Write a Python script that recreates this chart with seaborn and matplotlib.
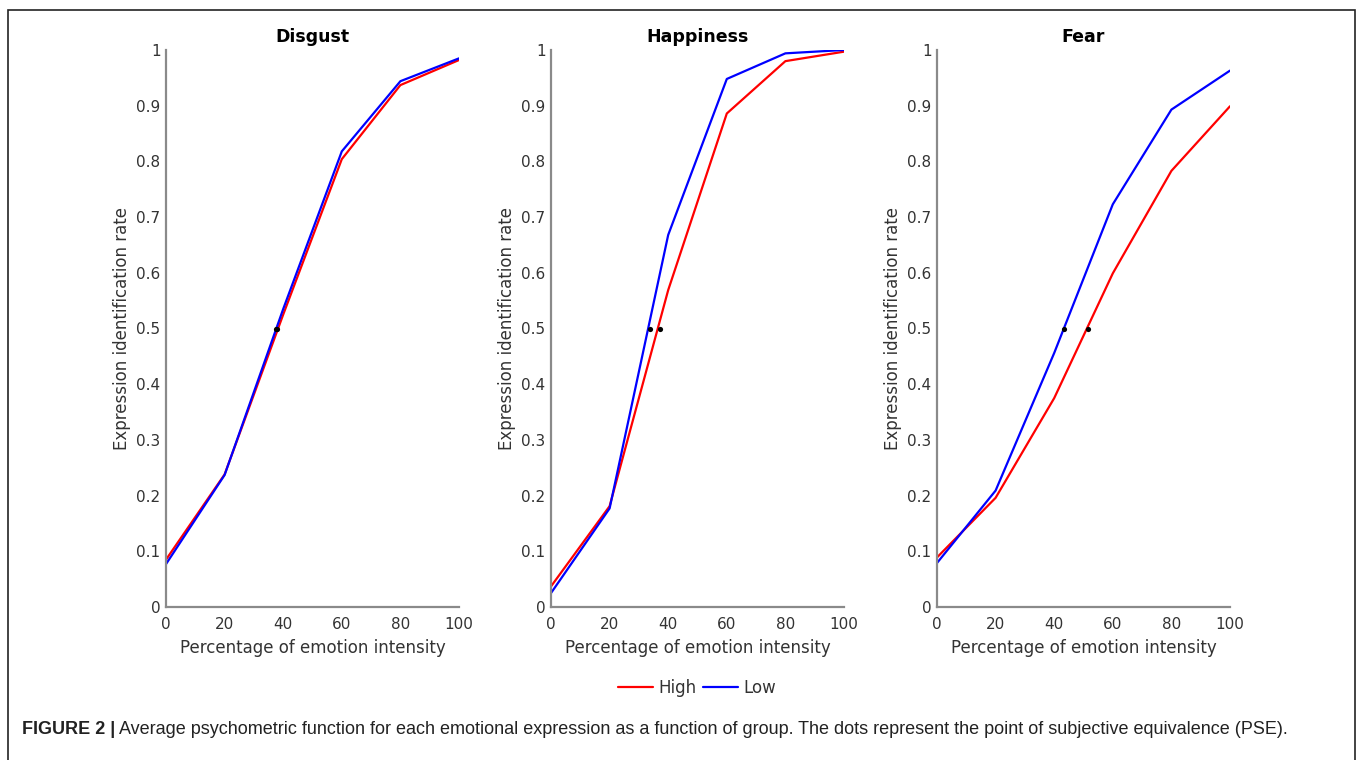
import matplotlib
matplotlib.use("Agg")
import matplotlib.pyplot as plt
import matplotlib.patches as mpatches
from matplotlib.lines import Line2D
from matplotlib.ticker import FormatStrFormatter
import seaborn as sns
import pandas as pd

# ---- data ----
emotions = ["Disgust", "Happiness", "Fear"]
intensity = [0, 20, 40, 60, 80, 100]
groups = ["High", "Low"]

disgust_high = [0.085, 0.238, 0.525, 0.804, 0.937, 0.982]
disgust_low = [0.077, 0.237, 0.535, 0.818, 0.944, 0.985]
happiness_high = [0.037, 0.181, 0.569, 0.886, 0.980, 0.997]
happiness_low = [0.025, 0.177, 0.668, 0.948, 0.994, 1.000]
fear_high = [0.089, 0.196, 0.375, 0.599, 0.783, 0.899]
fear_low = [0.079, 0.209, 0.456, 0.723, 0.893, 0.963]

pse_high = [37.8, 37.1, 51.6]
pse_low = [37.6, 33.9, 43.2]
pse_level = 0.5

series = {
    "Disgust": (disgust_high, disgust_low),
    "Happiness": (happiness_high, happiness_low),
    "Fear": (fear_high, fear_low),
}

xticks = [0, 20, 40, 60, 80, 100]
yticks = [0, 0.1, 0.2, 0.3, 0.4, 0.5, 0.6, 0.7, 0.8, 0.9, 1.0]
xlabel = "Percentage of emotion intensity"
ylabel = "Expression identification rate"
caption_bold = "FIGURE 2 |"
caption_text = ("Average psychometric function for each emotional expression as a function of group. "
                "The dots represent the point of subjective equivalence (PSE).")

palette = {"High": "#ff0000", "Low": "#0000ff"}

sns.set_style("white")
plt.rcParams["font.family"] = ["DejaVu Sans"]

W, H = 1358, 760
fig = plt.figure(figsize=(W / 100, H / 100), dpi=100)

lefts = [166, 551, 937]
ax_w = 293
ax_top, ax_bot = 50, 607
spine_col = "#8a8a8a"
text_col = "#333333"

for i, emo in enumerate(emotions):
    ax = fig.add_axes([lefts[i] / W, 1 - ax_bot / H, ax_w / W, (ax_bot - ax_top) / H])
    hi, lo = series[emo]
    df = pd.DataFrame({
        "intensity": intensity * 2,
        "rate": hi + lo,
        "group": ["High"] * len(hi) + ["Low"] * len(lo),
    })
    sns.lineplot(data=df, x="intensity", y="rate", hue="group", palette=palette,
                 ax=ax, legend=False, linewidth=1.6)
    pse_df = pd.DataFrame({"x": [pse_high[i], pse_low[i]], "y": [pse_level, pse_level]})
    sns.scatterplot(data=pse_df, x="x", y="y", ax=ax, color="black", s=14,
                    edgecolor="black", linewidth=0, zorder=5)
    ax.set_xlim(0, 100)
    ax.set_ylim(0, 1)
    ax.set_xticks(xticks)
    ax.set_yticks(yticks)
    ax.yaxis.set_major_formatter(FormatStrFormatter("%g"))
    ax.set_title(emo, fontsize=12.5, fontweight="bold", color="black", pad=6)
    ax.set_xlabel(xlabel, fontsize=12, color=text_col, labelpad=5)
    ax.set_ylabel(ylabel, fontsize=12, color=text_col, labelpad=4)
    for s in ["top", "right"]:
        ax.spines[s].set_visible(False)
    for s in ["left", "bottom"]:
        ax.spines[s].set_color(spine_col)
        ax.spines[s].set_linewidth(1.6)
    ax.tick_params(direction="in", length=4, width=1, color=spine_col,
                   labelsize=11, labelcolor=text_col, pad=4)
    ax.tick_params(axis="x", pad=7)
    ax.set_facecolor("white")

handles = [Line2D([0], [0], color=palette[g], lw=1.6) for g in groups]
fig.legend(handles, groups, loc="center", bbox_to_anchor=(697 / W, 1 - 688 / H),
           ncol=2, frameon=False, fontsize=12, handlelength=2.1, handletextpad=0.3,
           columnspacing=0.4, labelcolor=text_col)

# border frame
rect = mpatches.Rectangle((8 / W, -0.05), (1355 - 8) / W, 1.05 - 10 / H,
                          transform=fig.transFigure, fill=False, edgecolor="#222222",
                          linewidth=1.2)
fig.patches.append(rect)

# caption
cap_y = 1 - 729 / H
t1 = fig.text(22 / W, cap_y, caption_bold, fontsize=13, fontweight="bold",
              family=["Liberation Sans", "DejaVu Sans"], color="#222222", va="center")
fig.canvas.draw()
bb = t1.get_window_extent(renderer=fig.canvas.get_renderer())
fig.text((bb.x1 + 4) / W, cap_y, caption_text, fontsize=13,
         family=["Liberation Sans", "DejaVu Sans"], color="#222222", va="center")

fig.savefig("out.png", dpi=100, facecolor="white")
